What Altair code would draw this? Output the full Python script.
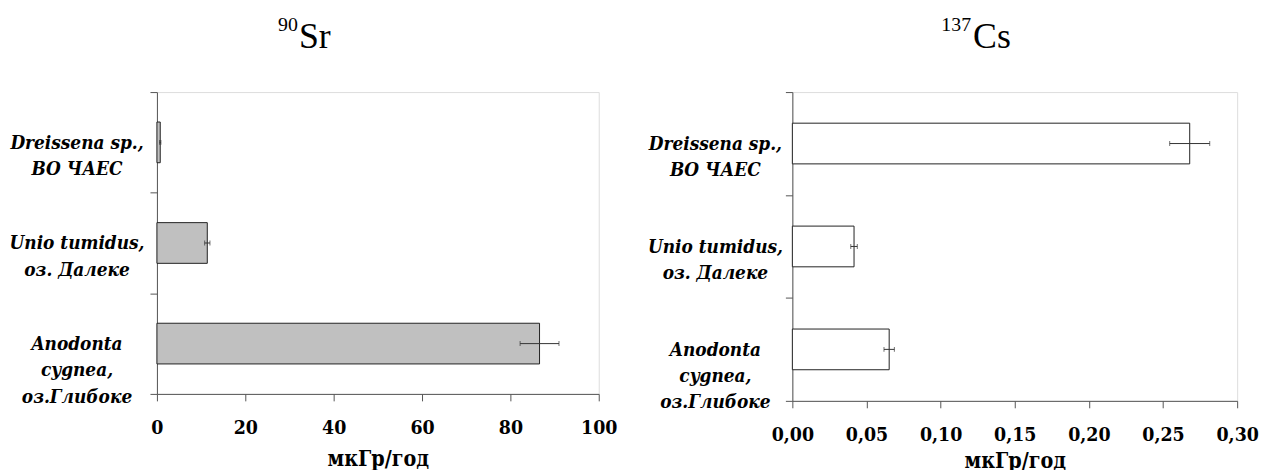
import altair as alt
import pandas as pd

# ---- data ----
categories = ["Dreissena sp.,|ВО ЧАЕС", "Unio tumidus,|оз. Далеке", "Anodonta|cygnea,|оз.Глибоке"]
sr_mean = [0.75, 11.4, 86.6]
sr_err = [0.15, 0.6, 4.4]
cs_mean = [0.268, 0.0416, 0.0653]
cs_err = [0.0135, 0.0022, 0.0035]
sr_ticks = [0, 20, 40, 60, 80, 100]
cs_ticks = [0.0, 0.05, 0.10, 0.15, 0.20, 0.25, 0.30]
x_title = "мкГр/год"

FONT = "DejaVu Serif Condensed"
TITLE_FONT = "Liberation Serif"
AX = "#555555"


def make_df(means, errs):
    return pd.DataFrame({
        "cat": categories,
        "v": means,
        "lo": [m - e for m, e in zip(means, errs)],
        "hi": [m + e for m, e in zip(means, errs)],
    })


def panel(df, dom, ticks, fill, fmt_expr, w, h, title_y, lab_pad, sup, main, sup_x, main_x):
    y_enc = alt.Y(
        "cat:N", sort=categories, title=None,
        scale=alt.Scale(paddingInner=0, paddingOuter=0),
        axis=alt.Axis(
            labelExpr="split(datum.label, '|')",
            labelAlign="center", labelBaseline="middle",
            labelPadding=lab_pad, tickSize=7, tickBand="extent",
            labelFont=FONT, labelFontSize=19, labelFontStyle="italic",
            labelFontWeight="bold", labelColor="black", labelLineHeight=26.5,
            domainColor=AX, tickColor=AX, grid=False,
        ),
    )
    x_scale = alt.Scale(domain=dom, nice=False, zero=True)
    x_axis = alt.Axis(
        values=ticks, labelExpr=fmt_expr, grid=False,
        tickSize=7, labelPadding=18, domainColor=AX, tickColor=AX,
        labelFont=FONT, labelFontSize=19.5, labelFontWeight="bold", labelColor="black",
        labelFlush=False,
        title=x_title, titleFont=FONT, titleFontSize=21.5, titleFontWeight="bold",
        titleColor="black", titleBaseline="alphabetic", titleY=title_y,
    )
    bars = alt.Chart(df).mark_bar(size=41, fill=fill, stroke="#222222", strokeWidth=1).encode(
        x=alt.X("v:Q", scale=x_scale, axis=x_axis), y=y_enc
    )
    rule = alt.Chart(df).mark_rule(color="#333333", strokeWidth=1).encode(
        x="lo:Q", x2="hi:Q", y=alt.Y("cat:N", sort=categories)
    )
    cap_lo = alt.Chart(df).mark_tick(color="#333333", thickness=1, size=5, orient="vertical").encode(
        x="lo:Q", y=alt.Y("cat:N", sort=categories)
    )
    cap_hi = alt.Chart(df).mark_tick(color="#333333", thickness=1, size=5, orient="vertical").encode(
        x="hi:Q", y=alt.Y("cat:N", sort=categories)
    )
    t_sup = alt.Chart(pd.DataFrame({"t": [sup]})).mark_text(
        font=TITLE_FONT, fontSize=20, align="right", baseline="alphabetic", color="black"
    ).encode(text="t:N", x=alt.value(sup_x), y=alt.value(-62))
    t_main = alt.Chart(pd.DataFrame({"t": [main]})).mark_text(
        font=TITLE_FONT, fontSize=36, align="left", baseline="alphabetic", color="black"
    ).encode(text="t:N", x=alt.value(main_x), y=alt.value(-44))
    return alt.layer(bars, rule, cap_lo, cap_hi, t_sup, t_main).properties(width=w, height=h)


left = panel(make_df(sr_mean, sr_err), [0, 100], sr_ticks, "#c0c0c0",
             "format(datum.value, 'd')", 445, 304, 72, 74, "90", "Sr", 142, 143)
right = panel(make_df(cs_mean, cs_err), [0, 0.30], cs_ticks, "white",
              "replace(format(datum.value, '.2f'), '.', ',')", 448, 311, 67, 71, "137", "Cs", 180, 182)

chart = alt.hconcat(
    left, right, spacing=29, padding={"left": 0, "right": 0, "top": 4, "bottom": 0}
).resolve_scale(x="independent", y="independent").configure_view(
    stroke=None
).configure(background="white")

chart.save("out.html", embed_options={"renderer": "svg", "actions": False})
